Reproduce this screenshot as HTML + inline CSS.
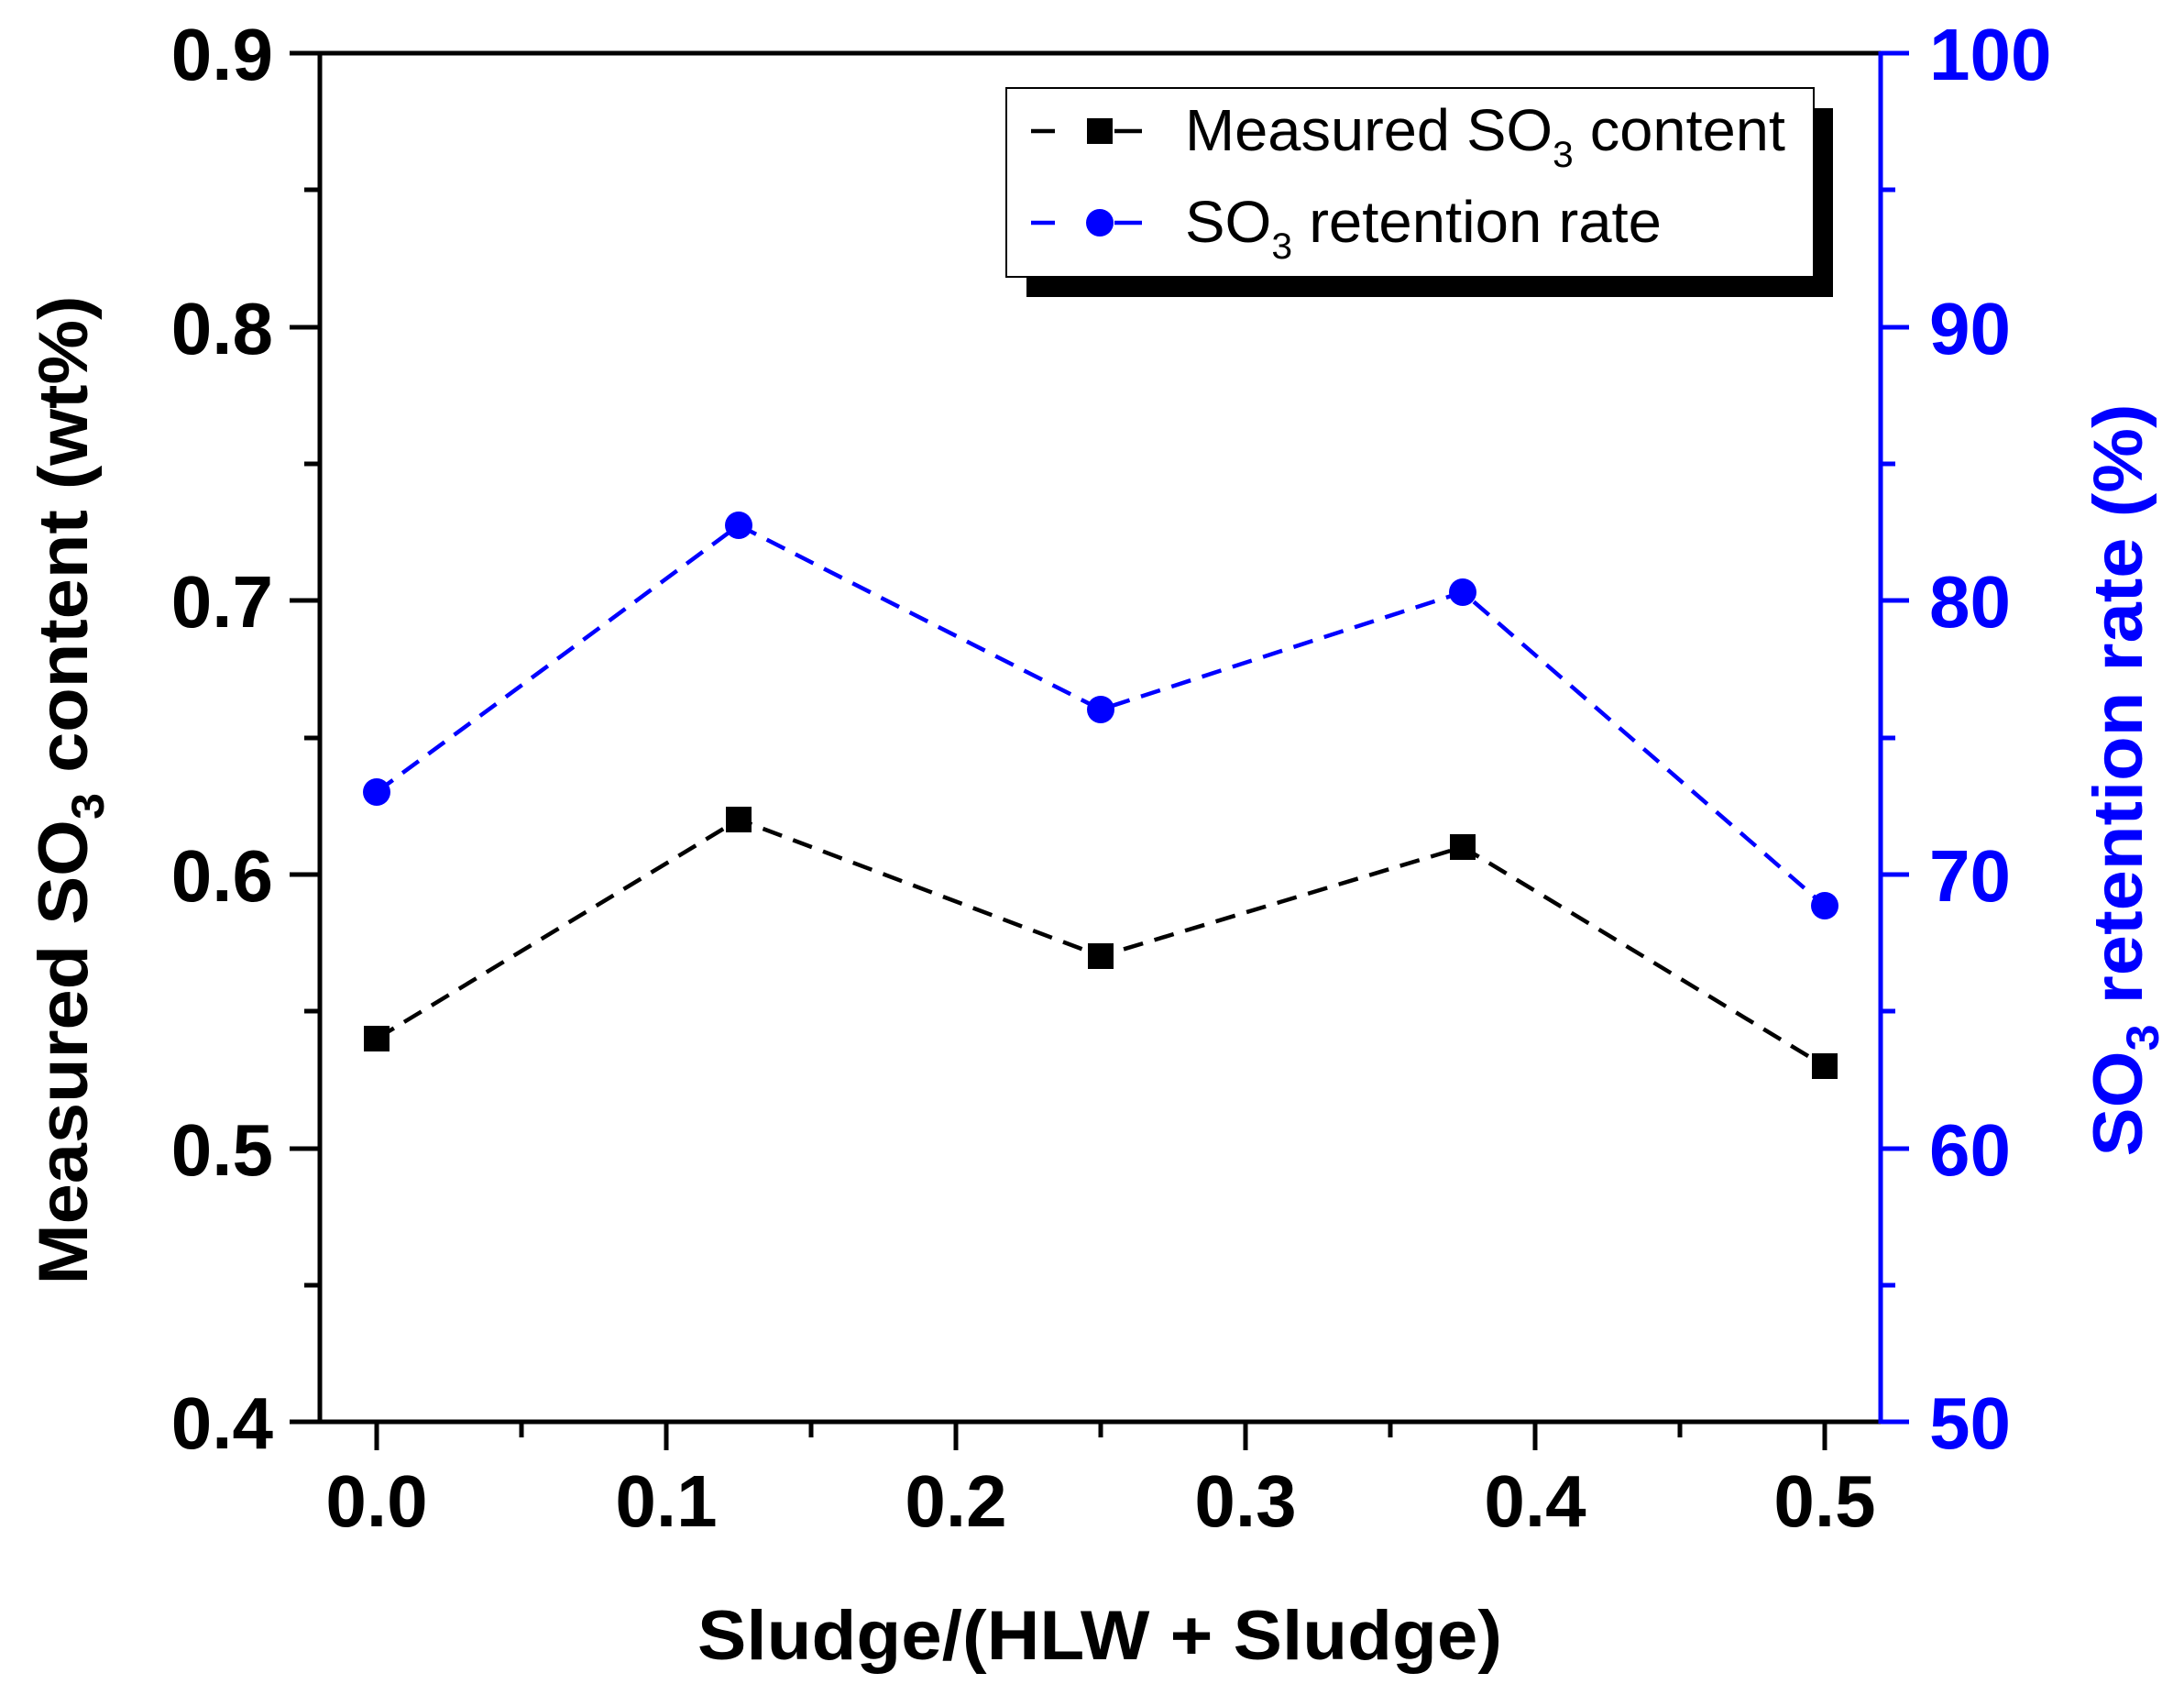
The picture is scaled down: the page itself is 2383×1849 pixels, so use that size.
<!DOCTYPE html>
<html><head><meta charset="utf-8"><style>html,body{margin:0;padding:0;background:#fff}svg{display:block}</style></head>
<body>
<svg width="2383" height="1849" viewBox="0 0 2383 1849" xmlns="http://www.w3.org/2000/svg" font-family="Liberation Sans, Arial, sans-serif">
<rect width="2383" height="1849" fill="#fff"/>
<line x1="349" y1="58" x2="2052" y2="58" stroke="#000" stroke-width="5"/>
<line x1="349" y1="56" x2="349" y2="1553" stroke="#000" stroke-width="5"/>
<line x1="347" y1="1551" x2="2052" y2="1551" stroke="#000" stroke-width="5"/>
<line x1="2052" y1="56" x2="2052" y2="1553" stroke="#0000ff" stroke-width="5"/>
<g stroke="#000" stroke-width="5">
<line x1="316" y1="58" x2="349" y2="58"/><line x1="332" y1="207" x2="349" y2="207"/>
<line x1="316" y1="357" x2="349" y2="357"/><line x1="332" y1="506" x2="349" y2="506"/>
<line x1="316" y1="655" x2="349" y2="655"/><line x1="332" y1="805" x2="349" y2="805"/>
<line x1="316" y1="954" x2="349" y2="954"/><line x1="332" y1="1103" x2="349" y2="1103"/>
<line x1="316" y1="1253" x2="349" y2="1253"/><line x1="332" y1="1402" x2="349" y2="1402"/>
<line x1="316" y1="1551" x2="349" y2="1551"/>
<line x1="411" y1="1551" x2="411" y2="1582"/><line x1="569" y1="1551" x2="569" y2="1568"/>
<line x1="727" y1="1551" x2="727" y2="1582"/><line x1="885" y1="1551" x2="885" y2="1568"/>
<line x1="1043" y1="1551" x2="1043" y2="1582"/><line x1="1201" y1="1551" x2="1201" y2="1568"/>
<line x1="1359" y1="1551" x2="1359" y2="1582"/><line x1="1517" y1="1551" x2="1517" y2="1568"/>
<line x1="1675" y1="1551" x2="1675" y2="1582"/><line x1="1833" y1="1551" x2="1833" y2="1568"/>
<line x1="1991" y1="1551" x2="1991" y2="1582"/>
</g>
<g stroke="#0000ff" stroke-width="5">
<line x1="2052" y1="58" x2="2083" y2="58"/><line x1="2052" y1="207" x2="2068" y2="207"/>
<line x1="2052" y1="357" x2="2083" y2="357"/><line x1="2052" y1="506" x2="2068" y2="506"/>
<line x1="2052" y1="655" x2="2083" y2="655"/><line x1="2052" y1="805" x2="2068" y2="805"/>
<line x1="2052" y1="954" x2="2083" y2="954"/><line x1="2052" y1="1103" x2="2068" y2="1103"/>
<line x1="2052" y1="1253" x2="2083" y2="1253"/><line x1="2052" y1="1402" x2="2068" y2="1402"/>
<line x1="2052" y1="1551" x2="2083" y2="1551"/>
</g>
<g font-size="80" font-weight="bold" text-anchor="end" fill="#000">
<text x="298" y="87">0.9</text><text x="298" y="386">0.8</text><text x="298" y="684">0.7</text>
<text x="298" y="983">0.6</text><text x="298" y="1282">0.5</text><text x="298" y="1580">0.4</text>
</g>
<g font-size="80" font-weight="bold" text-anchor="middle" fill="#000">
<text x="411" y="1665">0.0</text><text x="727" y="1665">0.1</text><text x="1043" y="1665">0.2</text>
<text x="1359" y="1665">0.3</text><text x="1675" y="1665">0.4</text><text x="1991" y="1665">0.5</text>
</g>
<g font-size="80" font-weight="bold" fill="#0000ff">
<text x="2105" y="87">100</text><text x="2105" y="386">90</text><text x="2105" y="684">80</text>
<text x="2105" y="983">70</text><text x="2105" y="1282">60</text><text x="2105" y="1580">50</text>
</g>
<text x="1200" y="1810" font-size="76" font-weight="bold" text-anchor="middle" textLength="878" lengthAdjust="spacingAndGlyphs">Sludge/(HLW + Sludge)</text>
<text transform="translate(95,862) rotate(-90)" font-size="76" font-weight="bold" text-anchor="middle" textLength="1079" lengthAdjust="spacingAndGlyphs">Measured SO<tspan font-size="50" dy="18">3</tspan><tspan dy="-18"> content (wt%)</tspan></text>
<text transform="translate(2337,851) rotate(-90)" font-size="76" font-weight="bold" text-anchor="middle" fill="#0000ff" textLength="821" lengthAdjust="spacingAndGlyphs">SO<tspan font-size="50" dy="18">3</tspan><tspan dy="-18"> retention rate (%)</tspan></text>
<polyline points="411,1133 806,894 1201,1043 1596,924 1991,1163" fill="none" stroke="#000" stroke-width="4.5" stroke-dasharray="22,13"/>
<g fill="#000">
<rect x="397" y="1119" width="28" height="28"/><rect x="792" y="880" width="28" height="28"/>
<rect x="1187" y="1029" width="28" height="28"/><rect x="1582" y="910" width="28" height="28"/>
<rect x="1977" y="1149" width="28" height="28"/>
</g>
<polyline points="411,864 806,573 1201,774 1596,646 1991,988" fill="none" stroke="#0000ff" stroke-width="4.5" stroke-dasharray="22,13"/>
<g fill="#0000ff">
<circle cx="411" cy="864" r="15"/><circle cx="806" cy="573" r="15"/><circle cx="1201" cy="774" r="15"/>
<circle cx="1596" cy="646" r="15"/><circle cx="1991" cy="988" r="15"/>
</g>
<rect x="1120" y="118" width="880" height="206" fill="#000"/>
<rect x="1098" y="96" width="881" height="206" fill="#fff" stroke="#000" stroke-width="2"/>
<line x1="1125" y1="143" x2="1151" y2="143" stroke="#000" stroke-width="4.5"/>
<line x1="1216" y1="143" x2="1246" y2="143" stroke="#000" stroke-width="4.5"/>
<rect x="1186" y="129" width="28" height="28" fill="#000"/>
<line x1="1125" y1="243" x2="1151" y2="243" stroke="#0000ff" stroke-width="4.5"/>
<line x1="1216" y1="243" x2="1246" y2="243" stroke="#0000ff" stroke-width="4.5"/>
<circle cx="1200" cy="243" r="15" fill="#0000ff"/>
<text x="1293" y="164" font-size="64" textLength="655" lengthAdjust="spacingAndGlyphs">Measured SO<tspan font-size="40" dy="18">3</tspan><tspan dy="-18"> content</tspan></text>
<text x="1293" y="264" font-size="64" textLength="520" lengthAdjust="spacingAndGlyphs">SO<tspan font-size="40" dy="18">3</tspan><tspan dy="-18"> retention rate</tspan></text>
</svg>
</body></html>
